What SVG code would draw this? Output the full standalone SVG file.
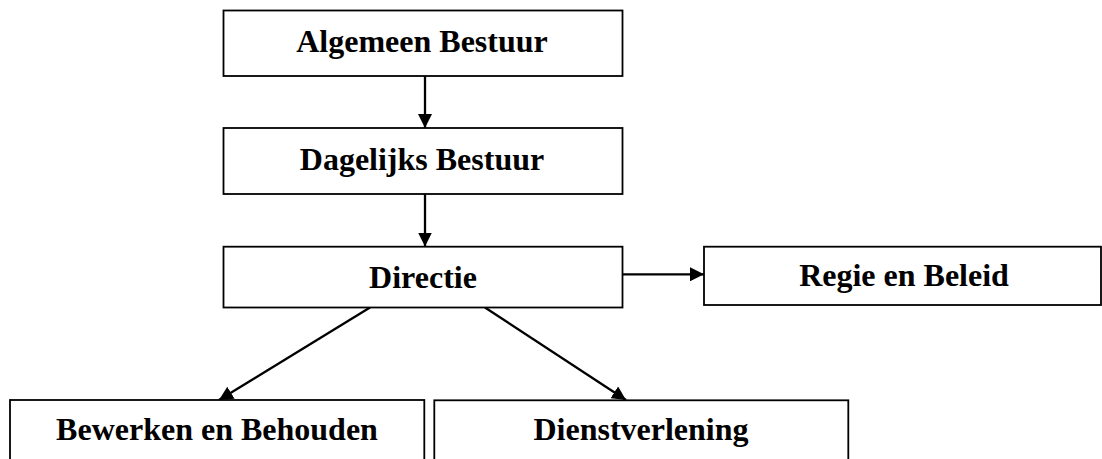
<svg xmlns="http://www.w3.org/2000/svg" width="1102" height="459" viewBox="0 0 1102 459">
<style>
.box{fill:#fff;stroke:#000;stroke-width:1.8}
.lbl{font-family:"Liberation Serif","Times New Roman",serif;font-weight:bold;font-size:32px;fill:#000;text-anchor:middle}
.con{stroke:#000;stroke-width:2.3;fill:none;marker-end:url(#ah)}
</style>
<defs>
<marker id="ah" viewBox="0 0 14 14" refX="14" refY="7" markerUnits="userSpaceOnUse" markerWidth="14" markerHeight="14" orient="auto">
<path d="M0,0 L14,7 L0,14 Z" fill="#000"/>
</marker>
</defs>
<rect width="1102" height="459" fill="#fff"/>
<g id="connectors">
<line class="con" x1="425" y1="76" x2="425" y2="128"/>
<line class="con" x1="425" y1="194" x2="425" y2="246.5"/>
<line class="con" x1="622.5" y1="274.3" x2="704" y2="274.3"/>
<line class="con" x1="370" y1="307.5" x2="219" y2="400"/>
<line class="con" x1="485" y1="307.5" x2="626" y2="400"/>
</g>
<g id="n1"><rect class="box" x="223.5" y="10.5" width="399" height="65.5"/><text class="lbl" x="422" y="52">Algemeen Bestuur</text></g>
<g id="n2"><rect class="box" x="223.5" y="128" width="399" height="66"/><text class="lbl" x="422" y="170">Dagelijks Bestuur</text></g>
<g id="n3"><rect class="box" x="223.5" y="246.7" width="399" height="60.8"/><text class="lbl" x="423" y="288">Directie</text></g>
<g id="n4"><rect class="box" x="704" y="246.7" width="397" height="58.3"/><text class="lbl" x="904" y="286">Regie en Beleid</text></g>
<g id="n5"><rect class="box" x="10" y="400" width="414.3" height="62"/><text class="lbl" x="217" y="440">Bewerken en Behouden</text></g>
<g id="n6"><rect class="box" x="434.3" y="400.3" width="414" height="62"/><text class="lbl" x="641" y="440">Dienstverlening</text></g>
</svg>
